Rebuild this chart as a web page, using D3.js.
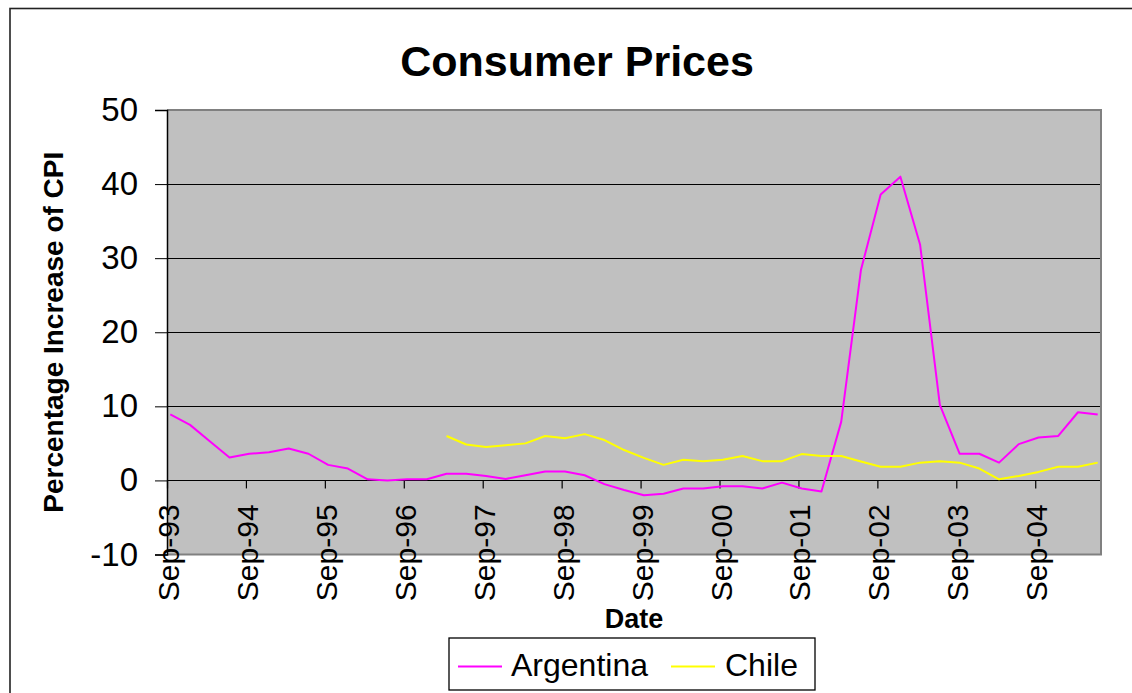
<!DOCTYPE html>
<html>
<head>
<meta charset="utf-8">
<script src="https://cdn.jsdelivr.net/npm/d3@7"></script>
<style>
  html, body { margin: 0; padding: 0; background: #fff; }
  svg { display: block; font-family: "Liberation Sans", Arial, sans-serif; }
</style>
</head>
<body>
<svg id="chart" width="1132" height="693"></svg>
<script>
// Quarterly observations (year-month)
const quarters = [
  "1993-09","1993-12","1994-03","1994-06","1994-09","1994-12","1995-03","1995-06",
  "1995-09","1995-12","1996-03","1996-06","1996-09","1996-12","1997-03","1997-06",
  "1997-09","1997-12","1998-03","1998-06","1998-09","1998-12","1999-03","1999-06",
  "1999-09","1999-12","2000-03","2000-06","2000-09","2000-12","2001-03","2001-06",
  "2001-09","2001-12","2002-03","2002-06","2002-09","2002-12","2003-03","2003-06",
  "2003-09","2003-12","2004-03","2004-06","2004-09","2004-12","2005-03","2005-06"
];

// Percentage increase of CPI
const argentina = [
  8.9, 7.5, 5.3, 3.1, 3.6, 3.8, 4.3, 3.6,
  2.1, 1.6, 0.15, 0.0, 0.15, 0.15, 0.9, 0.9,
  0.6, 0.2, 0.7, 1.2, 1.2, 0.7, -0.5, -1.3,
  -2.0, -1.8, -1.1, -1.1, -0.8, -0.8, -1.1, -0.3,
  -1.1, -1.5, 7.9, 28.4, 38.6, 41.0, 31.8, 10.2,
  3.6, 3.6, 2.4, 4.9, 5.8, 6.0, 9.2, 8.9
];

const chile = [
  null, null, null, null, null, null, null, null,
  null, null, null, null, null, null, 6.0, 4.85,
  4.5, 4.75, 5.0, 6.0, 5.7, 6.25, 5.45, 4.1,
  3.05, 2.1, 2.8, 2.6, 2.8, 3.3, 2.6, 2.6,
  3.55, 3.3, 3.3, 2.55, 1.85, 1.85, 2.4, 2.6,
  2.4, 1.6, 0.15, 0.6, 1.15, 1.85, 1.85, 2.4
];

const xTickLabels = ["Sep-93","Sep-94","Sep-95","Sep-96","Sep-97","Sep-98",
                     "Sep-99","Sep-00","Sep-01","Sep-02","Sep-03","Sep-04"];
const yTicks = [-10, 0, 10, 20, 30, 40, 50];

const series = [
  { name: "Argentina", values: argentina, color: "#ff00ff" },
  { name: "Chile", values: chile, color: "#ffff00" }
];

// Month-based date axis: one unit per month, counted from Sep-93
const monthIndex = s => {
  const [y, m] = s.split("-").map(Number);
  return (y - 1993) * 12 + (m - 9);
};
const lastMonth = monthIndex(quarters[quarters.length - 1]) + 1;

const plot = { left: 167, right: 1101, top: 110, bottom: 554.5 };

const svg = d3.select("#chart");

// Outer chart frame
svg.append("rect")
  .attr("x", 10).attr("y", 8.5)
  .attr("width", 1300).attr("height", 900)
  .attr("fill", "#fff").attr("stroke", "#222").attr("stroke-width", 1.6);

const x = d3.scaleLinear().domain([0, lastMonth]).range([plot.left, plot.right]);
const y = d3.scaleLinear().domain([-10, 50]).range([plot.bottom, plot.top]);

// Plot area
svg.append("rect")
  .attr("x", plot.left).attr("y", plot.top)
  .attr("width", plot.right - plot.left).attr("height", plot.bottom - plot.top)
  .attr("fill", "#c0c0c0");

// Horizontal gridlines
svg.append("g")
  .selectAll("line")
  .data(yTicks.filter(t => t !== -10 && t !== 50))
  .join("line")
  .attr("x1", plot.left).attr("x2", plot.right)
  .attr("y1", d => Math.round(y(d)) + 0.5).attr("y2", d => Math.round(y(d)) + 0.5)
  .attr("stroke", "#000").attr("stroke-width", 1);

// Plot area border (top, right, bottom)
svg.append("path")
  .attr("d", `M${plot.left},${plot.top}H${plot.right}V${plot.bottom}H${plot.left}`)
  .attr("fill", "none").attr("stroke", "#808080").attr("stroke-width", 2);

// Y axis
const yAxis = d3.axisLeft(y).tickValues(yTicks).tickSize(12).tickPadding(17)
  .tickFormat(d => String(d));
const gy = svg.append("g").attr("transform", `translate(${plot.left},0)`).call(yAxis);
gy.select(".domain").attr("stroke", "#000").attr("stroke-width", 1.5);
gy.selectAll(".tick line").attr("stroke", "#000");
gy.selectAll(".tick text")
  .attr("font-size", 33).attr("fill", "#000")
  .attr("font-family", "'Liberation Sans', Arial, sans-serif");

// X axis sits on the zero line
const tickMonths = xTickLabels.map((_, i) => i * 12);
const xAxis = d3.axisBottom(x).tickValues(tickMonths).tickSize(8).tickFormat("");
const gx = svg.append("g").attr("transform", `translate(0,${y(0)})`).call(xAxis);
gx.select(".domain").remove();
gx.selectAll(".tick line").attr("stroke", "#000").attr("stroke-width", 1.2);

svg.append("g")
  .selectAll("text")
  .data(xTickLabels)
  .join("text")
  .attr("transform", (d, i) => `translate(${x(tickMonths[i])},${y(0) + 24}) rotate(-90)`)
  .attr("y", 12)
  .attr("text-anchor", "end")
  .attr("font-size", 30)
  .attr("fill", "#000")
  .text(d => d);

// Series lines
const line = d3.line()
  .defined(d => d.v !== null)
  .x(d => x(monthIndex(d.q) + 0.5))
  .y(d => y(d.v));

series.forEach(s => {
  svg.append("path")
    .datum(quarters.map((q, i) => ({ q, v: s.values[i] })))
    .attr("fill", "none")
    .attr("stroke", s.color)
    .attr("stroke-width", 2)
    .attr("stroke-linejoin", "round")
    .attr("d", line);
});

// Title
svg.append("text")
  .attr("x", 577).attr("y", 76)
  .attr("text-anchor", "middle")
  .attr("font-size", 43).attr("font-weight", "bold")
  .text("Consumer Prices");

// Axis titles
svg.append("text")
  .attr("transform", `translate(63,${(plot.top + plot.bottom) / 2}) rotate(-90)`)
  .attr("text-anchor", "middle")
  .attr("font-size", 28).attr("font-weight", "bold")
  .text("Percentage Increase of CPI");

svg.append("text")
  .attr("x", 634).attr("y", 628)
  .attr("text-anchor", "middle")
  .attr("font-size", 27).attr("font-weight", "bold")
  .text("Date");

// Legend
const legend = svg.append("g").attr("transform", "translate(449,638)");
legend.append("rect")
  .attr("width", 366).attr("height", 52)
  .attr("fill", "#fff").attr("stroke", "#000").attr("stroke-width", 1.3);

const legendItems = [
  { s: series[0], lx: 9, tx: 62 },
  { s: series[1], lx: 222, tx: 276 }
];
legendItems.forEach(item => {
  legend.append("line")
    .attr("x1", item.lx).attr("x2", item.lx + 44)
    .attr("y1", 28.5).attr("y2", 28.5)
    .attr("stroke", item.s.color).attr("stroke-width", 2);
  legend.append("text")
    .attr("x", item.tx).attr("y", 38)
    .attr("font-size", 32)
    .text(item.s.name);
});
</script>
</body>
</html>
